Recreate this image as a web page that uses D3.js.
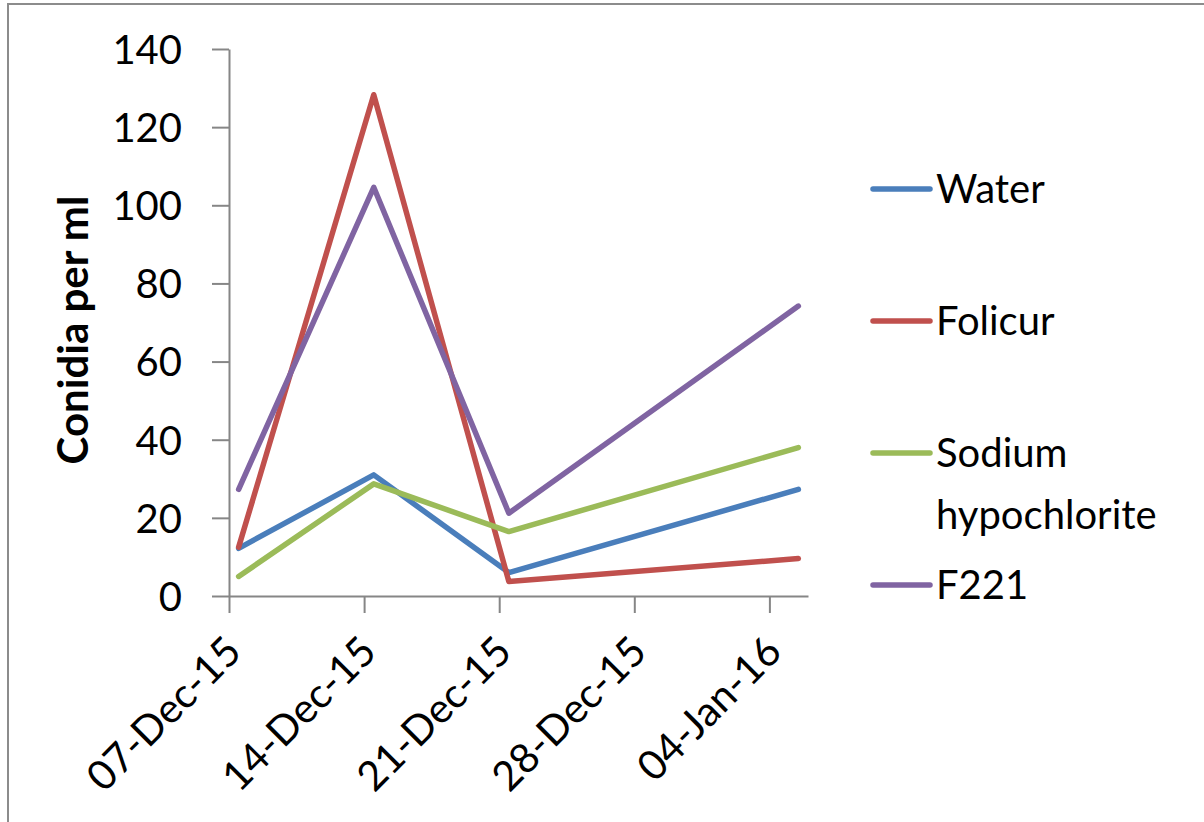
<!DOCTYPE html>
<html>
<head>
<meta charset="utf-8">
<script src="https://cdn.jsdelivr.net/npm/d3@7"></script>
<style>
  body { margin: 0; background: #fff; }
  text { font-family: Lato, "Open Sans", sans-serif; fill: #000; }
</style>
</head>
<body>
<div id="chart"></div>
<script>
// data
var dates = ["2015-12-07", "2015-12-14", "2015-12-21", "2016-01-05"];
var water = [12.2, 31, 6, 27.3];
var folicur = [12.5, 128.3, 3.7, 9.6];
var sodium = [5, 28.7, 16.5, 38];
var f221 = [27.3, 104.6, 21.2, 74.2];
var seriesNames = ["Water", "Folicur", "Sodium hypochlorite", "F221"];
var seriesColors = ["#4a7ebb", "#c0504d", "#9bbb59", "#8064a2"];
var xTickDates = ["2015-12-07", "2015-12-14", "2015-12-21", "2015-12-28", "2016-01-04"];
var yTicks = [0, 20, 40, 60, 80, 100, 120, 140];

var parse = d3.timeParse("%Y-%m-%d");
var fmt = d3.timeFormat("%d-%b-%y");

var width = 1204, height = 822;
var svg = d3.select("#chart").append("svg")
  .attr("width", width)
  .attr("height", height);

// chart border (only left and top edges show in the picture)
svg.append("rect")
  .attr("x", 8).attr("y", 4)
  .attr("width", 1300).attr("height", 900)
  .attr("fill", "none")
  .attr("stroke", "#8c8c8c")
  .attr("stroke-width", 2);

var x = d3.scaleTime()
  .domain([parse("2015-12-07"), parse("2016-01-06")])
  .range([229, 808]);
var y = d3.scaleLinear()
  .domain([0, 140])
  .range([596, 49]);

// y axis
var yAxis = svg.append("g")
  .attr("transform", "translate(229,0)")
  .call(d3.axisLeft(y).tickValues(yTicks).tickSize(17).tickPadding(30).tickSizeOuter(0));
yAxis.selectAll("path, line").attr("stroke", "#868686").attr("stroke-width", 2);
yAxis.selectAll("text")
  .style("font-size", "40px")
  .attr("fill", "#000")
  .attr("dy", "0.36em");

// x axis
var xAxis = svg.append("g")
  .attr("transform", "translate(0,596)")
  .call(d3.axisBottom(x).tickValues(xTickDates.map(parse)).tickFormat(fmt).tickSize(17).tickSizeOuter(0));
xAxis.selectAll("path, line").attr("stroke", "#868686").attr("stroke-width", 2);
xAxis.selectAll("text")
  .style("font-size", "41px")
  .attr("fill", "#000")
  .attr("text-anchor", "end")
  .attr("dy", 0)
  .attr("y", 0)
  .attr("transform", "translate(14,58) rotate(-45)");

// y axis title
svg.append("text")
  .attr("transform", "translate(88,330) rotate(-90)")
  .attr("text-anchor", "middle")
  .style("font-size", "42px")
  .style("font-weight", "bold")
  .text("Conidia per ml");

// lines, points sit in the middle of each day like Excel's date axis
var allSeries = [water, folicur, sodium, f221];
var line = d3.line()
  .x(function(d) { return x(d3.timeHour.offset(parse(d.date), 12)); })
  .y(function(d) { return y(d.value); });

allSeries.forEach(function(vals, i) {
  var pts = vals.map(function(v, j) { return { date: dates[j], value: v }; });
  svg.append("path")
    .datum(pts)
    .attr("d", line)
    .attr("fill", "none")
    .attr("stroke", seriesColors[i])
    .attr("stroke-width", 5.5)
    .attr("stroke-linecap", "round")
    .attr("stroke-linejoin", "round");
});

// legend
var legendY = [189, 321, 453, 585];
var legend = svg.append("g");
seriesNames.forEach(function(name, i) {
  legend.append("line")
    .attr("x1", 873).attr("x2", 930)
    .attr("y1", legendY[i]).attr("y2", legendY[i])
    .attr("stroke", seriesColors[i])
    .attr("stroke-width", 5.5)
    .attr("stroke-linecap", "round");
  var t = legend.append("text")
    .attr("x", 936)
    .attr("y", legendY[i])
    .style("font-size", "40px");
  var parts = name === "Sodium hypochlorite" ? ["Sodium", "hypochlorite"] : [name];
  parts.forEach(function(p, k) {
    t.append("tspan")
      .attr("x", 936)
      .attr("dy", k === 0 ? "0.36em" : "62px")
      .text(p);
  });
});
</script>
</body>
</html>
